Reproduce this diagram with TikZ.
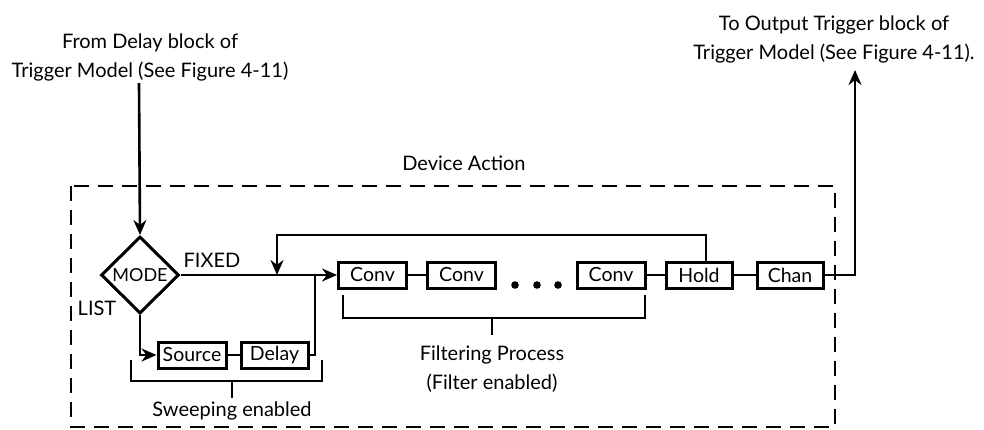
\documentclass[tikz,border=0pt]{standalone}
\usepackage{fontspec}
\setmainfont{Lato}
\usetikzlibrary{arrows.meta,shapes.geometric}
\begin{document}
\begin{tikzpicture}[x=1pt, y=-1pt, >={Stealth[length=15pt,width=13pt]},
	blok/.style={draw, line width=3pt, minimum width=68pt, minimum height=26pt, inner sep=0pt, font=\fontsize{19.5}{20}\selectfont},
	lijn/.style={line width=2.6pt},
	tekst/.style={font=\fontsize{20}{29}\selectfont, align=center}]
	
	\useasboundingbox (0,0) rectangle (984,429);
	
	% Kader rond de apparaatactie
	\draw[line width=2.8pt, dash pattern=on 15pt off 9pt] (71,186) rectangle (835,427);
	\node[tekst] (kop) at (464,163) {Device Action};
	
	% Ingaande en uitgaande teksten
	\node[tekst] (van) at (150,57) {From Delay block of\\Trigger Model (See Figure 4-11)};
	\node[tekst] (naar) at (834,39) {To Output Trigger block of\\Trigger Model (See Figure 4-11).};
	\coordinate (in) at (139,83);
	\coordinate (uit) at (855,70);
	
	% Keuzeruit en blokken
	\node[diamond, draw, line width=3pt, inner sep=0pt, minimum width=78pt, minimum height=77pt, font=\fontsize{18}{20}\selectfont] (mode) at (140,275) {MODE};
	\node[blok] (source) at (192,355) {Source};
	\node[blok, minimum width=67pt] (delay) at (274.5,355) {Delay};
	\node[blok] (conv1) at (372.5,275) {Conv};
	\node[blok] (conv2) at (461.5,275) {Conv};
	\node[blok] (conv3) at (611,275) {Conv};
	\node[blok, minimum width=66pt] (hold) at (699,275) {Hold};
	\node[blok, minimum width=66pt] (chan) at (790,275) {Chan};
	
	% Labels bij de takken
	\node[tekst] (fixed) at (212,260) {FIXED};
	\node[tekst] (list) at (97,308) {LIST};
	
	% Verbindingen
	\coordinate (terug) at (277,235);
	\coordinate (samen) at (315,275);
	\draw[->, lijn] (in) -- (mode.north);
	\draw[->, lijn] (mode.east) -- (conv1.west);
	\draw[->, lijn] (mode.south) |- (source.west);
	\draw[lijn] (source) -- (delay);
	\draw[lijn] (delay.east) -| (samen);
	\draw[->, lijn] ([xshift=7pt]hold.north) |- (terug) -- (terug |- mode.east);
	\draw[lijn] (conv1) -- (conv2);
	\draw[lijn] (conv3) -- (hold);
	\draw[lijn] (hold) -- (chan);
	\draw[->, lijn] (chan.east) -| (uit);
	
	% Puntjes tussen de filterblokken
	\foreach \x in {515,537,558} {
		\fill (\x,285) circle (3.8pt);
	}
	
	% Accolades met uitleg
	\draw[lijn] (131,360) |- (322,381) -- (322,360);
	\draw[lijn] (232,381) -- (232,398);
	\node[tekst] (sweep) at (232,411) {Sweeping enabled};
	\draw[lijn] (343,295) |- (645,318) -- (645,295);
	\draw[lijn] (492,318) -- (492,335);
	\node[tekst] (filter) at (492,369) {Filtering Process\\(Filter enabled)};
	
\end{tikzpicture}
\end{document}
